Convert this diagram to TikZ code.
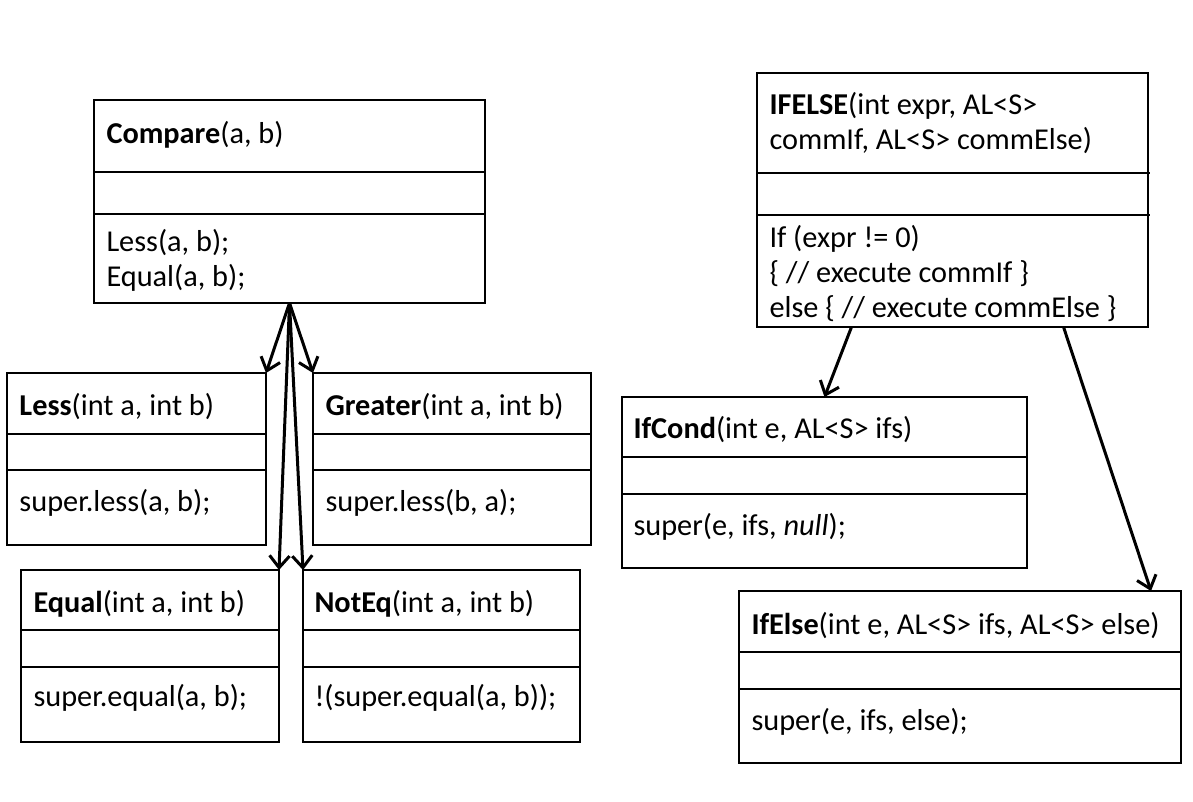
\documentclass[tikz,border=0pt]{standalone}
\usepackage{fontspec}
\setmainfont{Carlito}
\usetikzlibrary{arrows.meta}
\begin{document}
\begin{tikzpicture}[x=1pt,y=-1pt,inner sep=0pt,outer sep=0pt,line width=1.5pt,
umlbox/.style={draw,rectangle,line width=1.5pt},
txt/.style={anchor=west,xshift=12.5pt,align=left,font=\fontsize{30.3}{35}\selectfont},
inherit/.style={line width=3pt,-{Straight Barb[length=12pt,width=20pt,line width=3pt]}}]

\useasboundingbox (0,0) rectangle (1193,801);

% left hierarchy
\draw (289.5,201.5) node[umlbox,minimum width=391pt,minimum height=203pt] (compare) {};
\draw (compare.west |- 0,172) -- (compare.east |- 0,172);
\draw (compare.west |- 0,214) -- (compare.east |- 0,214);
\draw (compare.west |- 0,135) node[txt] (compareT) {\textbf{Compare}(a, b)};
\draw (compare.west |- 0,260.5) node[txt] (compareM) {Less(a, b);\\Equal(a, b);};

\draw (136.5,459) node[umlbox,minimum width=259pt,minimum height=172pt] (less) {};
\draw (less.west |- 0,434) -- (less.east |- 0,434);
\draw (less.west |- 0,470) -- (less.east |- 0,470);
\draw (less.west |- 0,407) node[txt] (lessT) {\textbf{Less}(int a, int b)};
\draw (less.west |- 0,503) node[txt] (lessM) {super.less(a, b);};

\draw (452,459) node[umlbox,minimum width=278pt,minimum height=172pt] (greater) {};
\draw (greater.west |- 0,434) -- (greater.east |- 0,434);
\draw (greater.west |- 0,470) -- (greater.east |- 0,470);
\draw (greater.west |- 0,407) node[txt] (greaterT) {\textbf{Greater}(int a, int b)};
\draw (greater.west |- 0,503) node[txt] (greaterM) {super.less(b, a);};

\draw (150,656) node[umlbox,minimum width=258pt,minimum height=172pt] (equal) {};
\draw (equal.west |- 0,630) -- (equal.east |- 0,630);
\draw (equal.west |- 0,667) -- (equal.east |- 0,667);
\draw (equal.west |- 0,604) node[txt] (equalT) {\textbf{Equal}(int a, int b)};
\draw (equal.west |- 0,698) node[txt] (equalM) {super.equal(a, b);};

\draw (441.5,656) node[umlbox,minimum width=277pt,minimum height=172pt] (noteq) {};
\draw (noteq.west |- 0,630) -- (noteq.east |- 0,630);
\draw (noteq.west |- 0,667) -- (noteq.east |- 0,667);
\draw (noteq.west |- 0,604) node[txt,xshift=-1pt] (noteqT) {\textbf{NotEq}(int a, int b)};
\draw (noteq.west |- 0,698) node[txt,xshift=-1pt] (noteqM) {!(super.equal(a, b));};

\draw[inherit] (compare.south) -- (less.north east);
\draw[inherit] (compare.south) -- (greater.north west);
\draw[inherit] (compare.south) -- (equal.north east);
\draw[inherit] (compare.south) -- (noteq.north west);

% right hierarchy
\draw (952.5,200) node[umlbox,minimum width=391pt,minimum height=254pt] (ifelseC) {};
\draw (ifelseC.west |- 0,173) -- ([xshift=2pt]ifelseC.east |- 0,173);
\draw (ifelseC.west |- 0,215) -- ([xshift=2pt]ifelseC.east |- 0,215);
\draw (ifelseC.west |- 0,123.5) node[txt] (ifelseCT) {\textbf{IFELSE}(int expr, AL<S>\\commIf, AL<S> commElse)};
\draw (ifelseC.west |- 0,273) node[txt] (ifelseCM) {If (expr != 0)\\\{ // execute commIf \}\\else \{ // execute commElse \}};

\draw (824.5,482.5) node[umlbox,minimum width=405pt,minimum height=171pt] (ifcond) {};
\draw (ifcond.west |- 0,457) -- (ifcond.east |- 0,457);
\draw (ifcond.west |- 0,494) -- (ifcond.east |- 0,494);
\draw (ifcond.west |- 0,430) node[txt,xshift=-1pt] (ifcondT) {\textbf{IfCond}(int e, AL<S> ifs)};
\draw (ifcond.west |- 0,527) node[txt,xshift=-1pt] (ifcondM) {super(e, ifs, \textit{null});};

\draw (960,677) node[umlbox,minimum width=442pt,minimum height=172pt] (ifelse) {};
\draw (ifelse.west |- 0,652) -- (ifelse.east |- 0,652);
\draw (ifelse.west |- 0,689) -- (ifelse.east |- 0,689);
\draw (ifelse.west |- 0,626) node[txt] (ifelseT) {\textbf{IfElse}(int e, AL<S> ifs, AL<S> else)};
\draw (ifelse.west |- 0,722) node[txt] (ifelseM) {super(e, ifs, else);};

\draw[inherit] ([xshift=-101pt]ifelseC.south) -- (ifcond.north);
\draw[inherit] ([xshift=111pt]ifelseC.south) -- ([xshift=191pt]ifelse.north);
\end{tikzpicture}
\end{document}
